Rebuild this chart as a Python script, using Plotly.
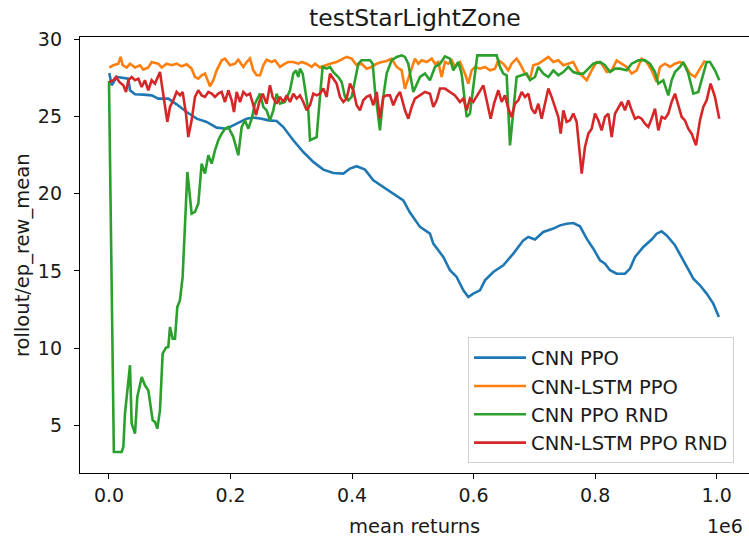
import plotly.graph_objects as go

# x values in units of 1e6 steps
cnn_ppo_x = [0.0005, 0.0044, 0.0126, 0.0236, 0.0318, 0.0346, 0.0428, 0.0565, 0.0702, 0.0812, 0.0976,
             0.1113, 0.1278, 0.1443, 0.1607, 0.1772, 0.1936, 0.2101, 0.2265, 0.2375, 0.2512, 0.2622,
             0.2759, 0.2869, 0.3033, 0.3198, 0.3362, 0.3527, 0.3692, 0.3856, 0.3966, 0.4075, 0.4213,
             0.4350, 0.4514, 0.4679, 0.4843, 0.4953, 0.5118, 0.5282, 0.5337, 0.5502, 0.5611, 0.5721,
             0.5831, 0.5913, 0.5995, 0.6105, 0.6187, 0.6324, 0.6489, 0.6654, 0.6818, 0.6900, 0.7010,
             0.7147, 0.7312, 0.7422, 0.7531, 0.7641, 0.7751, 0.7861, 0.7970, 0.8080, 0.8162, 0.8245,
             0.8354, 0.8491, 0.8574, 0.8656, 0.8793, 0.8930, 0.9012, 0.9095, 0.9177, 0.9314, 0.9451,
             0.9616, 0.9725, 0.9835, 0.9944, 1.0037]
cnn_ppo_y = [27.82, 27.02, 27.56, 27.52, 27.45, 26.70, 26.44, 26.42, 26.37, 26.16, 26.16,
             25.79, 25.29, 24.86, 24.65, 24.28, 24.21, 24.54, 24.86, 24.93, 24.86, 24.75,
             24.71, 24.32, 23.46, 22.70, 22.06, 21.56, 21.34, 21.30, 21.63, 21.78, 21.56,
             20.87, 20.44, 20.00, 19.57, 18.78, 17.85, 17.41, 16.77, 15.90, 15.04, 14.61,
             13.74, 13.31, 13.53, 13.74, 14.39, 14.93, 15.36, 16.12, 16.98, 17.20, 17.03,
             17.52, 17.74, 17.95, 18.06, 18.10, 17.89, 17.09, 16.44, 15.69, 15.47, 15.04,
             14.82, 14.82, 15.15, 15.90, 16.55, 17.03, 17.41, 17.56, 17.30, 16.66, 15.69,
             14.50, 14.07, 13.53, 12.88, 12.02]

lstm_ppo_x = [0.0005, 0.0071, 0.0154, 0.0192, 0.0225, 0.0291, 0.0346, 0.0428, 0.0510, 0.0565, 0.0647,
              0.0702, 0.0757, 0.0812, 0.0867, 0.0949, 0.1031, 0.1113, 0.1196, 0.1278, 0.1360, 0.1415,
              0.1470, 0.1525, 0.1580, 0.1662, 0.1717, 0.1772, 0.1854, 0.1909, 0.1991, 0.2073, 0.2128,
              0.2211, 0.2265, 0.2320, 0.2375, 0.2430, 0.2485, 0.2540, 0.2594, 0.2677, 0.2732, 0.2814,
              0.2896, 0.2951, 0.3033, 0.3116, 0.3170, 0.3253, 0.3335, 0.3390, 0.3472, 0.3554, 0.3637,
              0.3746, 0.3829, 0.3911, 0.3993, 0.4075, 0.4158, 0.4240, 0.4322, 0.4405, 0.4487, 0.4569,
              0.4651, 0.4734, 0.4816, 0.4870, 0.4953, 0.5035, 0.5090, 0.5145, 0.5227, 0.5310, 0.5365,
              0.5419, 0.5474, 0.5529, 0.5584, 0.5639, 0.5694, 0.5776, 0.5858, 0.5913, 0.5968, 0.6023,
              0.6105, 0.6187, 0.6270, 0.6352, 0.6407, 0.6489, 0.6571, 0.6626, 0.6708, 0.6763, 0.6846,
              0.6928, 0.6983, 0.7065, 0.7147, 0.7230, 0.7312, 0.7394, 0.7477, 0.7559, 0.7641, 0.7723,
              0.7806, 0.7861, 0.7943, 0.8025, 0.8107, 0.8190, 0.8272, 0.8354, 0.8436, 0.8519, 0.8601,
              0.8683, 0.8765, 0.8848, 0.8930, 0.9012, 0.9067, 0.9149, 0.9232, 0.9314, 0.9396, 0.9478,
              0.9561, 0.9643, 0.9725, 0.9807]
lstm_ppo_y = [28.17, 28.32, 28.42, 28.86, 28.32, 28.17, 28.42, 28.17, 28.32, 28.04, 28.17,
              28.53, 28.47, 28.42, 28.17, 28.42, 28.32, 28.42, 28.25, 28.38, 28.10, 27.56,
              27.45, 27.67, 27.78, 26.96, 27.35, 27.99, 28.64, 28.75, 28.32, 28.42, 28.68,
              28.21, 28.53, 28.75, 27.99, 27.67, 27.67, 28.32, 28.68, 28.53, 28.64, 28.21,
              28.42, 28.53, 28.53, 28.42, 28.53, 28.42, 28.21, 28.42, 28.17, 28.32, 28.42,
              28.53, 28.68, 28.86, 28.75, 28.32, 28.42, 28.10, 28.21, 28.42, 28.53, 28.60,
              28.75, 28.21, 27.99, 26.80, 27.78, 28.75, 28.42, 28.64, 28.53, 28.75, 28.42,
              28.53, 27.56, 28.53, 28.42, 28.64, 28.21, 28.53, 27.78, 27.13, 27.99, 28.21,
              28.10, 28.21, 27.99, 28.10, 28.64, 28.42, 27.99, 28.42, 28.75, 28.42, 27.78,
              27.45, 28.32, 28.42, 28.64, 28.86, 28.53, 28.64, 28.32, 28.42, 28.53, 27.88,
              27.56, 27.35, 27.99, 28.53, 28.42, 27.88, 27.99, 28.64, 28.42, 28.21, 27.78,
              27.99, 28.75, 28.53, 27.99, 27.24, 28.21, 28.42, 28.21, 28.42, 28.53, 28.32,
              27.78, 27.56, 28.10, 28.64]

rnd_x = [0.0, 0.0080, 0.0208, 0.0236, 0.0263, 0.0346, 0.0373, 0.0428, 0.0466, 0.0538, 0.0592,
         0.0647, 0.0719, 0.0757, 0.0795, 0.0839, 0.0883, 0.0938, 0.0976, 0.1004, 0.1048, 0.1086,
         0.1124, 0.1168, 0.1212, 0.1267, 0.1290, 0.1360, 0.1415, 0.1470, 0.1525, 0.1580, 0.1635,
         0.1690, 0.1744, 0.1799, 0.1854, 0.1909, 0.1964, 0.2046, 0.2128, 0.2183, 0.2238, 0.2293,
         0.2348, 0.2403, 0.2485, 0.2540, 0.2594, 0.2649, 0.2704, 0.2759, 0.2814, 0.2896, 0.2979,
         0.3033, 0.3077, 0.3116, 0.3143, 0.3187, 0.3225, 0.3280, 0.3308, 0.3417, 0.3472, 0.3516,
         0.3582, 0.3637, 0.3692, 0.3774, 0.3829, 0.3883, 0.3938, 0.3993, 0.4048, 0.4103, 0.4158,
         0.4295, 0.4339, 0.4377, 0.4432, 0.4459, 0.4514, 0.4569, 0.4651, 0.4734, 0.4816, 0.4871,
         0.4925, 0.5008, 0.5118, 0.5200, 0.5282, 0.5365, 0.5447, 0.5529, 0.5611, 0.5666, 0.5748,
         0.5803, 0.5886, 0.5940, 0.5995, 0.6061, 0.6379, 0.6434, 0.6489, 0.6544, 0.6599, 0.6654,
         0.6708, 0.6790, 0.6873, 0.6928, 0.7010, 0.7065, 0.7147, 0.7230, 0.7312, 0.7394, 0.7477,
         0.7559, 0.7641, 0.7723, 0.7806, 0.7888, 0.7970, 0.8080, 0.8162, 0.8245, 0.8327, 0.8409,
         0.8519, 0.8601, 0.8711, 0.8820, 0.8903, 0.8985, 0.9040, 0.9122, 0.9204, 0.9259, 0.9314,
         0.9396, 0.9451, 0.9533, 0.9616, 0.9698, 0.9753, 0.9835, 0.9890, 0.9972, 1.0043]
rnd_y = [27.30, 3.27, 3.27, 3.60, 5.76, 8.89, 5.11, 4.46, 6.84, 8.13, 7.59,
         7.27, 5.32, 5.22, 4.78, 5.97, 9.64, 10.03, 10.07, 11.37, 10.61, 10.61,
         12.66, 13.10, 14.61, 19.57, 21.41, 18.71, 18.82, 19.36, 21.95, 21.30, 22.49,
         21.95, 22.81, 23.46, 23.89, 24.21, 24.32, 23.67, 22.49, 24.32, 24.75, 24.21,
         24.86, 25.83, 26.48, 25.62, 25.40, 24.75, 25.40, 26.48, 25.83, 25.94, 26.70,
         27.78, 27.99, 27.56, 28.10, 27.78, 26.70, 25.40, 23.46, 23.67, 26.27, 28.21,
         28.10, 28.21, 27.88, 27.56, 27.24, 26.27, 26.05, 26.27, 27.35, 28.42, 28.64,
         28.64, 28.42, 26.70, 24.97, 24.10, 26.27, 27.78, 28.64, 28.86, 28.96, 28.86,
         28.42, 26.59, 27.56, 27.78, 27.35, 28.21, 28.42, 28.90, 28.75, 27.99, 28.53,
         27.78, 24.97, 25.19, 26.91, 28.96, 28.96, 28.21, 27.78, 27.67, 23.13, 25.62,
         27.56, 27.67, 27.78, 27.35, 27.56, 28.21, 27.78, 27.56, 27.99, 27.67, 27.88,
         28.21, 27.88, 27.78, 27.78, 28.10, 28.42, 28.53, 28.32, 27.88, 28.10, 28.10,
         27.99, 28.42, 28.64, 28.64, 28.42, 27.88, 27.13, 27.35, 26.37, 27.35, 27.88,
         28.21, 28.53, 27.78, 26.48, 26.59, 27.35, 28.53, 28.53, 27.99, 27.35]

lstm_rnd_x = [0.0005, 0.0071, 0.0115, 0.0170, 0.0236, 0.0280, 0.0318, 0.0373, 0.0428, 0.0483, 0.0538,
              0.0592, 0.0647, 0.0702, 0.0757, 0.0795, 0.0839, 0.0883, 0.0922, 0.0960, 0.1004, 0.1059,
              0.1113, 0.1168, 0.1212, 0.1267, 0.1305, 0.1360, 0.1415, 0.1470, 0.1525, 0.1580, 0.1635,
              0.1690, 0.1744, 0.1799, 0.1854, 0.1909, 0.1964, 0.2019, 0.2057, 0.2101, 0.2156, 0.2211,
              0.2265, 0.2320, 0.2375, 0.2419, 0.2474, 0.2529, 0.2594, 0.2649, 0.2693, 0.2759, 0.2814,
              0.2869, 0.2924, 0.2979, 0.3033, 0.3088, 0.3143, 0.3198, 0.3253, 0.3308, 0.3362, 0.3417,
              0.3472, 0.3527, 0.3582, 0.3637, 0.3692, 0.3746, 0.3801, 0.3856, 0.3911, 0.3966, 0.4020,
              0.4075, 0.4130, 0.4185, 0.4240, 0.4295, 0.4350, 0.4405, 0.4459, 0.4514, 0.4569, 0.4624,
              0.4679, 0.4734, 0.4789, 0.4871, 0.4926, 0.4981, 0.5035, 0.5118, 0.5200, 0.5282, 0.5337,
              0.5392, 0.5447, 0.5529, 0.5611, 0.5694, 0.5776, 0.5831, 0.5886, 0.5940, 0.5995, 0.6061,
              0.6105, 0.6160, 0.6215, 0.6281, 0.6336, 0.6407, 0.6462, 0.6516, 0.6571, 0.6626, 0.6681,
              0.6736, 0.6791, 0.6846, 0.6901, 0.6955, 0.7010, 0.7065, 0.7120, 0.7175, 0.7230, 0.7284,
              0.7339, 0.7394, 0.7433, 0.7477, 0.7531, 0.7586, 0.7641, 0.7696, 0.7779, 0.7833, 0.7888,
              0.7943, 0.7998, 0.8053, 0.8107, 0.8162, 0.8217, 0.8272, 0.8327, 0.8382, 0.8436, 0.8491,
              0.8546, 0.8601, 0.8656, 0.8711, 0.8765, 0.8820, 0.8875, 0.8930, 0.8985, 0.9040, 0.9095,
              0.9149, 0.9204, 0.9259, 0.9314, 0.9369, 0.9424, 0.9478, 0.9533, 0.9588, 0.9660, 0.9725,
              0.9780, 0.9835, 0.9900, 0.9972, 1.0043]
lstm_rnd_y = [27.24, 27.35, 27.56, 27.24, 27.02, 26.59, 27.35, 27.56, 27.35, 27.45, 26.91,
              27.35, 26.70, 27.35, 27.13, 27.45, 27.88, 26.70, 25.62, 24.65, 25.62, 26.05,
              26.59, 26.37, 26.59, 25.19, 23.67, 24.75, 26.27, 26.70, 26.37, 26.27, 26.59,
              26.48, 26.27, 26.48, 26.59, 25.94, 26.70, 26.05, 25.29, 26.59, 25.94, 26.59,
              26.37, 26.48, 25.73, 25.08, 25.94, 26.48, 25.83, 27.02, 26.27, 25.83, 26.27,
              25.94, 26.37, 25.94, 26.48, 26.16, 26.37, 25.94, 25.40, 25.73, 26.48, 26.37,
              26.48, 26.81, 26.27, 27.78, 27.45, 27.13, 26.27, 25.94, 26.16, 27.13, 26.70,
              25.73, 25.40, 26.05, 26.27, 26.37, 25.73, 26.59, 24.86, 26.27, 26.37, 26.37,
              25.73, 26.27, 26.59, 25.40, 24.86, 25.62, 26.16, 26.37, 26.59, 26.48, 25.62,
              26.05, 26.81, 26.81, 26.59, 26.37, 25.94, 26.16, 25.40, 26.16, 25.94, 26.37,
              26.70, 27.02, 26.05, 24.86, 25.83, 26.70, 25.94, 26.37, 25.51, 24.97, 25.83,
              26.05, 26.59, 26.27, 26.48, 25.51, 25.19, 25.83, 24.86, 25.94, 26.81, 26.27,
              25.62, 24.97, 23.89, 25.40, 24.65, 24.75, 25.19, 24.65, 21.30, 23.03, 23.89,
              24.21, 25.19, 24.75, 24.10, 24.97, 25.19, 23.67, 25.19, 25.62, 25.94, 25.40,
              26.05, 25.40, 24.86, 24.97, 24.86, 24.54, 24.32, 24.86, 25.51, 24.10, 24.97,
              24.86, 25.19, 25.94, 26.48, 25.73, 24.97, 24.75, 24.21, 23.89, 23.13, 24.75,
              25.62, 26.05, 27.13, 26.27, 24.86]

series_names = ["CNN PPO", "CNN-LSTM PPO", "CNN PPO RND", "CNN-LSTM PPO RND"]
series_colors = ["#1f77b4", "#ff7f0e", "#2ca02c", "#d62728"]
x_tick_vals = [0.0, 0.2, 0.4, 0.6, 0.8, 1.0]
x_tick_text = ["0.0", "0.2", "0.4", "0.6", "0.8", "1.0"]
y_tick_vals = [5, 10, 15, 20, 25, 30]

FONT = "DejaVu Sans"
TXT = "#1a1a1a"

fig = go.Figure()
for (xs, ys), name, color in zip(
        [(cnn_ppo_x, cnn_ppo_y), (lstm_ppo_x, lstm_ppo_y), (rnd_x, rnd_y), (lstm_rnd_x, lstm_rnd_y)],
        series_names, series_colors):
    fig.add_trace(go.Scatter(x=xs, y=ys, mode="lines", name=name, legendgroup=name,
                             line=dict(color=color, width=2.6)))

fig.update_layout(
    width=749, height=541,
    margin=dict(l=80, r=0, t=37, b=68),
    paper_bgcolor="white", plot_bgcolor="white",
    font=dict(family=FONT, size=19, color=TXT),
    showlegend=True,
    legend=dict(x=0.58, y=0.311, xanchor="left", yanchor="top",
                bgcolor="white", bordercolor="#d0d0d0", borderwidth=1,
                font=dict(size=19.5, color=TXT), tracegroupgap=0, itemwidth=52),
    xaxis=dict(range=[-0.0477, 1.0532], tickvals=x_tick_vals, ticktext=x_tick_text,
               showgrid=False, zeroline=False, showline=True, linecolor="black", linewidth=1.3,
               mirror=True, ticks="outside", ticklen=5, tickwidth=1.2, tickcolor="black"),
    yaxis=dict(range=[1.91, 30.15], tickvals=y_tick_vals,
               showgrid=False, zeroline=False, showline=True, linecolor="black", linewidth=1.3,
               mirror=False, ticks="outside", ticklen=5, tickwidth=1.2, tickcolor="black",
               ticklabelstandoff=8),
    annotations=[
        dict(text="testStarLightZone", xref="paper", yref="paper", x=0.5, y=1.0,
             xanchor="center", yanchor="bottom", yshift=3, showarrow=False,
             font=dict(size=23.5, color=TXT, family=FONT)),
        dict(text="mean returns", xref="paper", yref="paper", x=0.5, y=0, yshift=-40,
             xanchor="center", yanchor="top", showarrow=False,
             font=dict(size=19.5, color=TXT, family=FONT)),
        dict(text="1e6", xref="paper", yref="paper", x=1.0, xshift=-4, y=0, yshift=-40,
             xanchor="right", yanchor="top", showarrow=False,
             font=dict(size=19, color=TXT, family=FONT)),
        dict(text="rollout/ep_rew_mean", xref="paper", yref="paper", x=0, xshift=-58, y=0.5,
             xanchor="center", yanchor="middle", textangle=-90, showarrow=False,
             font=dict(size=19.5, color=TXT, family=FONT)),
    ],
)

fig.write_html("out.html", config={"displayModeBar": False},
               post_script="document.body.style.margin='0';")
